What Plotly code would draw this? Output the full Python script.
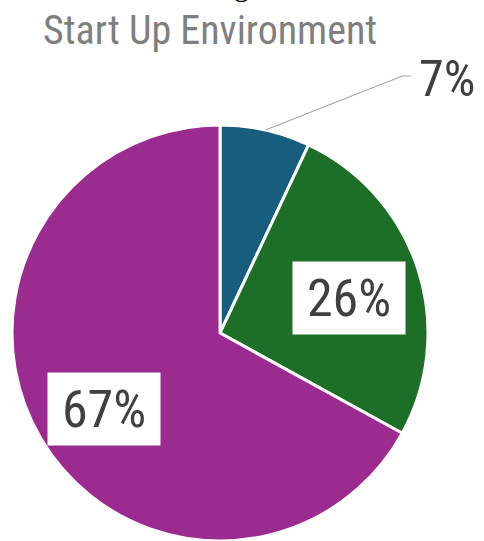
import math
import plotly.graph_objects as go

# data
labels = ['A', 'B', 'C']
values = [7, 26, 67]
colors = ['#175e7e', '#1d6e27', '#9c2b8f']
text_labels = ['7%', '26%', '67%']
title = 'Start Up Environment'

W, H = 484, 541
# pie geometry in pixels
cx, cy, R = 220, 333, 208

font = 'Liberation Sans Narrow, Arial Narrow, Roboto Condensed, Arial, sans-serif'


def px(x):
    return x / W


def py(y):
    return 1 - y / H


fig = go.Figure()

fig.add_trace(go.Pie(
    labels=labels,
    values=values,
    sort=False,
    direction='clockwise',
    rotation=0,
    marker=dict(colors=colors, line=dict(color='white', width=3)),
    textinfo='none',
    hoverinfo='none',
    showlegend=False,
    domain=dict(x=[px(cx - R), px(cx + R)], y=[py(cy + R), py(cy - R)]),
))

annotations = []
shapes = []

total = sum(values)
cum = 0
for i, v in enumerate(values):
    mid = (cum + v / 2) / total * 2 * math.pi
    cum += v
    if v / total < 0.1:
        # outside label with leader line
        ex = cx + R * math.sin(mid)
        ey = cy - R * math.cos(mid)
        bx, by = ex + 137, ey - 54
        shapes.append(dict(type='path', xref='paper', yref='paper',
                           path=f'M {px(ex)},{py(ey)} L {px(bx)},{py(by)} L {px(bx + 9)},{py(by)}',
                           line=dict(color='#a6a6a6', width=1.2)))
        annotations.append(dict(x=px(bx + 15), y=py(by + 3), xref='paper', yref='paper',
                                text=text_labels[i], showarrow=False,
                                xanchor='left', yanchor='middle',
                                font=dict(family=font, size=50, color='#404040')))
    else:
        lx = cx + 0.65 * R * math.sin(mid)
        ly = cy - 0.65 * R * math.cos(mid) + 7
        annotations.append(dict(x=px(lx), y=py(ly), xref='paper', yref='paper',
                                text=text_labels[i], showarrow=False,
                                xanchor='center', yanchor='middle',
                                width=110, height=70, bgcolor='white',
                                font=dict(family=font, size=52, color='#404040')))

# title
annotations.append(dict(x=px(210), y=py(31), xref='paper', yref='paper',
                        text=title, showarrow=False,
                        xanchor='center', yanchor='middle',
                        font=dict(family=font, size=40, color='#7f7f7f')))
# clipped fragment of text above the chart
annotations.append(dict(x=px(241), y=py(-14), xref='paper', yref='paper',
                        text='g', showarrow=False,
                        xanchor='center', yanchor='middle',
                        font=dict(family='Liberation Serif, serif', size=30, color='black')))

fig.update_layout(
    width=W, height=H,
    margin=dict(l=0, r=0, t=0, b=0),
    paper_bgcolor='white',
    plot_bgcolor='white',
    annotations=annotations,
    shapes=shapes,
)

fig.write_html('out.html', config={'displayModeBar': False},
               post_script="document.body.style.margin='0';")
